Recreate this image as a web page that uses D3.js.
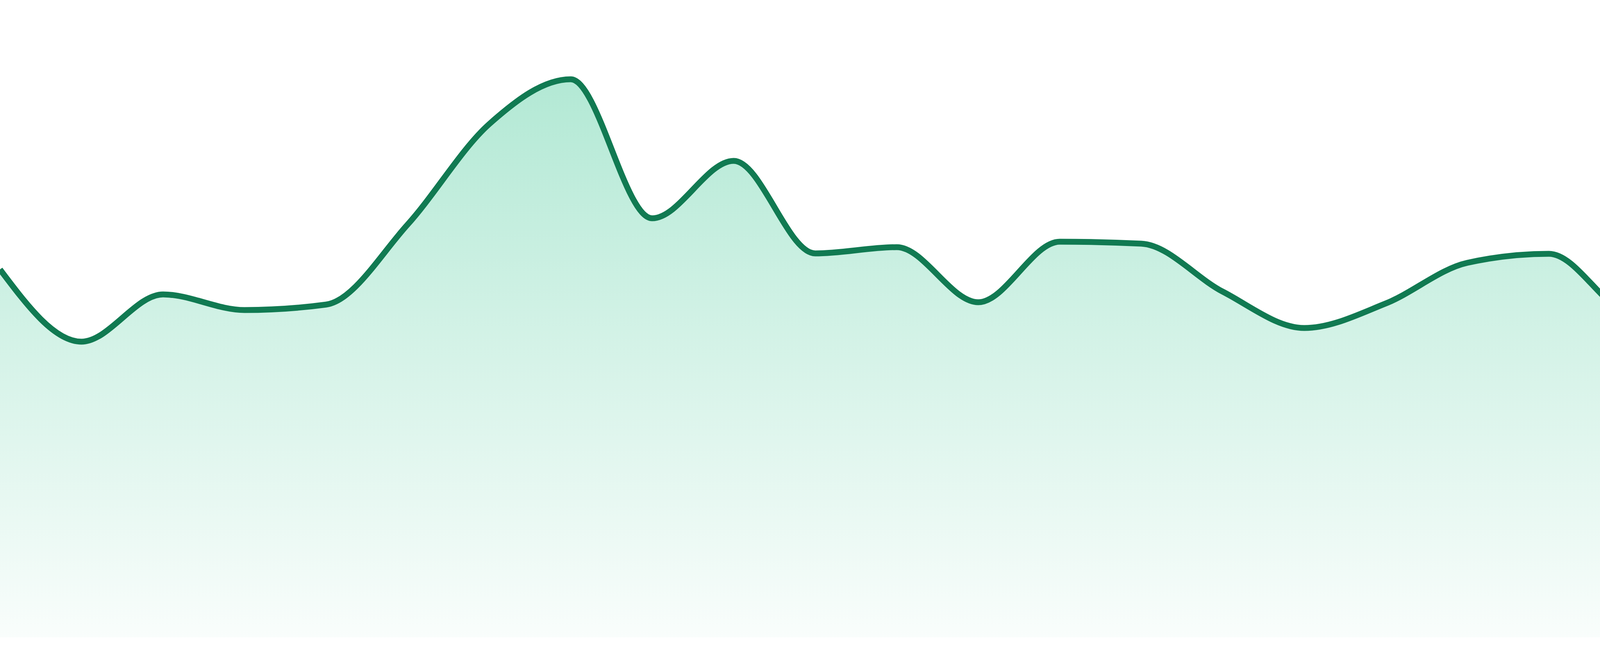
<!DOCTYPE html>
<html>
<head>
<meta charset="utf-8">
<script src="https://cdn.jsdelivr.net/npm/d3@7/dist/d3.min.js"></script>
<style>
  html, body { margin: 0; padding: 0; background: #ffffff; }
  svg { display: block; }
</style>
</head>
<body>
<svg id="chart" width="4800" height="1680"></svg>
<script>
// Data (index-based x positions)
const categories = d3.range(24);
const values = [94.2, 75.7, 87.8, 83.8, 85.2, 105.7, 131.4, 142.9, 107.3, 122.0, 98.3, 99.9,
                85.8, 101.3, 100.8, 88.5, 79.2, 85.5, 95.9, 98.2, 82.6, 80.2, 78.6, 58.2];

const width = 4800, height = 1680;
const bottom = 1632;

const svg = d3.select("#chart");

const x = d3.scaleLinear().domain([0, categories.length - 1]).range([0, width]);
const y = d3.scaleLinear().domain([0, 160]).range([bottom, 32]);

const data = categories.map((c, i) => ({ c, v: values[i] }));

const defs = svg.append("defs");
const grad = defs.append("linearGradient")
  .attr("id", "fillGrad")
  .attr("gradientUnits", "userSpaceOnUse")
  .attr("x1", 0).attr("x2", 0)
  .attr("y1", y(d3.max(values))).attr("y2", bottom);
grad.append("stop").attr("offset", "0%").attr("stop-color", "#10b97a").attr("stop-opacity", 0.32);
grad.append("stop").attr("offset", "100%").attr("stop-color", "#10b97a").attr("stop-opacity", 0.025);

const area = d3.area()
  .x(d => x(d.c))
  .y0(bottom)
  .y1(d => y(d.v))
  .curve(d3.curveMonotoneX);

const line = d3.line()
  .x(d => x(d.c))
  .y(d => y(d.v))
  .curve(d3.curveMonotoneX);

svg.append("path")
  .datum(data)
  .attr("d", area)
  .attr("fill", "url(#fillGrad)");

svg.append("path")
  .datum(data)
  .attr("d", line)
  .attr("fill", "none")
  .attr("stroke", "#117a52")
  .attr("stroke-width", 15)
  .attr("stroke-linejoin", "round");
</script>
</body>
</html>
